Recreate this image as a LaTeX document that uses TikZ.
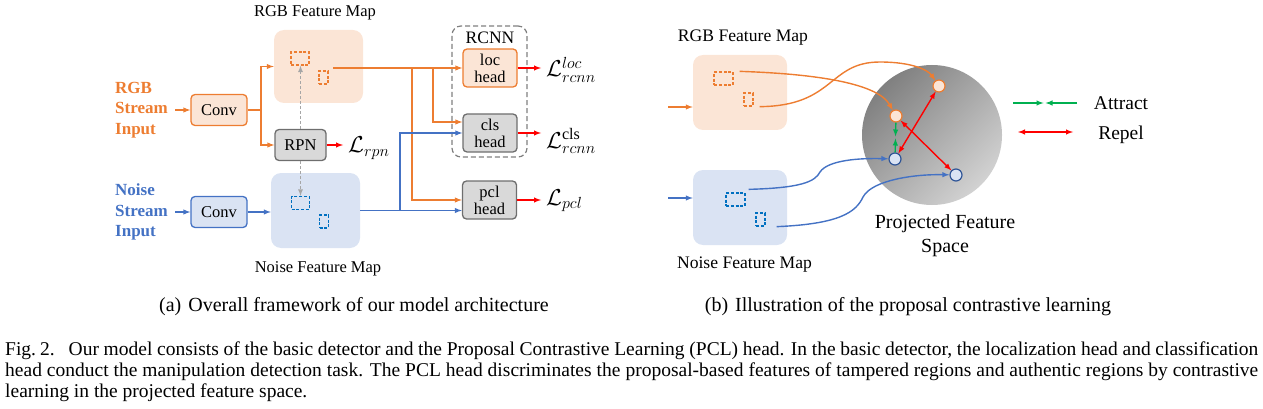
\RequirePackage{fix-cm}
\documentclass[tikz,border=0pt]{standalone}
\usepackage{amsmath}
\usepackage{fontspec}
\setmainfont{Liberation Serif}
\usepackage{xcolor}
\usetikzlibrary{shapes.geometric, arrows}
\usetikzlibrary{positioning, calc}

\definecolor{rgbline}{HTML}{ED7D31}
\definecolor{rgbfill}{HTML}{FBE5D6}
\definecolor{noiseline}{HTML}{4472C4}
\definecolor{noisefill}{HTML}{DAE3F3}
\definecolor{noisedash}{HTML}{0070C0}
\definecolor{noisedot}{HTML}{2F5597}
\definecolor{headfill}{HTML}{D9D9D9}
\definecolor{headline}{HTML}{6E6E6E}
\definecolor{roigray}{HTML}{A6A6A6}
\definecolor{rcnngray}{HTML}{7F7F7F}
\definecolor{lossred}{HTML}{FF0000}
\definecolor{pullgreen}{HTML}{00B050}
\definecolor{sphdark}{HTML}{808080}
\definecolor{sphlight}{HTML}{D2D2D2}

\begin{document}
\begin{tikzpicture}[
        x=1pt, y=-1pt,
        >=latex,
        txt/.style={font=\fontsize{16.5}{20}\selectfont, inner sep=0pt, align=center},
        losstxt/.style={anchor=base west, inner sep=5pt, font=\fontsize{23}{25}\selectfont},
        captxt/.style={anchor=base west, inner sep=0pt, font=\fontsize{19.5}{21}\selectfont},
        mapbox/.style={rectangle, rounded corners=10pt, minimum width=89pt, minimum height=73pt, inner sep=0pt},
        propbox/.style={rectangle, draw, line width=1.3pt, dash pattern=on 3pt off 1.8pt, inner sep=0pt, minimum width=18pt, minimum height=13pt},
        propthin/.style={propbox, minimum width=9pt},
        convbox/.style={rectangle, rounded corners=4pt, line width=1.3pt, minimum width=56pt, minimum height=31pt, inner sep=0pt, font=\fontsize{16.5}{20}\selectfont},
        headbox/.style={rectangle, rounded corners=4pt, line width=1.3pt, minimum width=54pt, minimum height=38pt, inner sep=0pt, align=center, font=\fontsize{16.5}{17}\selectfont},
        grayhead/.style={headbox, draw=headline, fill=headfill},
        rgbflow/.style={draw=rgbline, line width=1.4pt},
        noiseflow/.style={draw=noiseline, line width=1.4pt},
        lossflow/.style={->, draw=lossred, line width=1.4pt},
        roiflow/.style={->, draw=roigray, line width=1.2pt, dash pattern=on 3pt off 2pt},
        featdot/.style={circle, line width=1.2pt, minimum size=12pt, inner sep=0pt},
        pull/.style={->, draw=pullgreen, line width=1.4pt},
        push/.style={<->, draw=lossred, line width=1.4pt}
    ]
        \useasboundingbox (0,0) rectangle (1263,409);

        % (a) Feature maps
        \node (rgbmapA) [mapbox, fill=rgbfill] at (318.5,66.5) {};
        \node (rgbtitleA) [txt] at (315,13) {RGB Feature Map};
        \node (rgbbigA) [propbox, draw=rgbline] at (300,58.5) {};
        \node (rgbthinA) [propthin, draw=rgbline] at (323.5,77.5) {};
        \node (noisemapA) [mapbox, fill=noisefill, minimum height=75pt] at (315.5,210.5) {};
        \node (noisebigA) [propbox, draw=noisedash] at (300.5,203) {};
        \node (noisethinA) [propthin, draw=noisedash] at (324,221.5) {};
        \node (noisetitleA) [txt] at (318,269) {Noise Feature Map};

        % (a) Stream inputs and backbone
        \node (rgbinput) [txt, align=left, anchor=west, text=rgbline, font=\fontsize{17}{20.5}\selectfont\bfseries] at (115,110) {RGB\\Stream\\Input};
        \node (noiseinput) [txt, align=left, anchor=west, text=noiseline, font=\fontsize{17}{20.5}\selectfont\bfseries] at (115,212) {Noise\\Stream\\Input};
        \coordinate (rgbsrc) at (175,110);
        \coordinate (noisesrc) at (175,212);
        \node (rgbconv) [convbox, draw=rgbline, fill=rgbfill] at (219,110) {Conv};
        \node (noiseconv) [convbox, draw=noiseline, fill=noisefill] at (219,212) {Conv};
        \coordinate (rgbsplit) at (261,110);
        \node (rpn) [convbox, draw=headline, fill=headfill, minimum width=51pt] at (300.5,145) {RPN};
        \node (lossrpn) [losstxt] at (343,153) {$\mathcal{L}_{rpn}$};

        % (a) Heads
        \node (rcnn) [rectangle, draw=rcnngray, line width=1.2pt, dash pattern=on 5pt off 3pt, rounded corners=9pt, minimum width=75pt, minimum height=131pt] at (489.5,91.5) {};
        \node (rcnntxt) [txt, font=\fontsize{17.5}{20}\selectfont] at (490,38) {RCNN};
        \node (loc) [headbox, draw=rgbline, fill=rgbfill] at (490,68) {loc\\head};
        \node (cls) [grayhead] at (490,133) {cls\\head};
        \node (pcl) [grayhead] at (489.5,200) {pcl\\head};
        \node (lossloc) [losstxt] at (541,77) {$\mathcal{L}^{loc}_{rcnn}$};
        \node (losscls) [losstxt] at (541,148) {$\mathcal{L}^{\text{cls}}_{rcnn}$};
        \node (losspcl) [losstxt] at (541,205) {$\mathcal{L}_{pcl}$};
        \coordinate (rgbout) at (333,68);
        \coordinate (tappcl) at (412,68);
        \coordinate (tapcls) at (433,68);
        \coordinate (noisejoin) at (400,210.5);

        % (a) Connect RGB stream
        \draw [rgbflow, ->] (rgbsrc) -- (rgbconv);
        \draw [rgbflow] (rgbconv.east) -- (rgbsplit);
        \draw [rgbflow, ->] (rgbsplit) |- (rgbmapA.west);
        \draw [rgbflow, ->] (rgbsplit) |- (rpn.west);
        \draw [rgbflow, ->] (rgbout) -- (loc.west);
        \draw [rgbflow, ->] (tapcls) |- ($(cls.west)+(0,-11)$);
        \draw [rgbflow, ->] (tappcl) |- (pcl.west);

        % (a) Connect noise stream
        \draw [noiseflow, ->] (noisesrc) -- (noiseconv);
        \draw [noiseflow, ->] (noiseconv) -- (noiseconv -| noisemapA.west);
        \draw [noiseflow, ->] (noisemapA.east) -- (noisemapA.east -| pcl.west);
        \draw [noiseflow, ->] (noisejoin) |- (cls.west);

        % (a) Proposals and losses
        \draw [roiflow] (rpn.north) -- (rpn.north |- rgbbigA.south);
        \draw [roiflow] (rpn.south) -- (rpn.south |- noisebigA.north);
        \draw [lossflow] (rpn.east) -- (rpn.east -| lossrpn.west);
        \draw [lossflow] (loc.east) -- (loc.east -| lossloc.west);
        \draw [lossflow] (cls.east) -- (cls.east -| losscls.west);
        \draw [lossflow] (pcl.east) -- (pcl.east -| losspcl.west);

        % (b) Feature maps
        \node (rgbmapB) [mapbox, fill=rgbfill, minimum width=94pt, minimum height=75pt] at (740,92.5) {};
        \node (rgbtitleB) [txt, font=\fontsize{17.6}{20}\selectfont] at (743,38) {RGB Feature Map};
        \node (rgbbigB) [propbox, draw=rgbline, minimum width=19pt] at (723.5,78.5) {};
        \node (rgbthinB) [propthin, draw=rgbline] at (748.5,99.5) {};
        \node (noisemapB) [mapbox, fill=noisefill, minimum width=94pt, minimum height=75pt] at (740,207.5) {};
        \node (noisetitleB) [txt, font=\fontsize{17.6}{20}\selectfont] at (744.5,265) {Noise Feature Map};
        \node (noisebigB) [propbox, draw=noisedash, minimum width=19pt] at (735.5,199.5) {};
        \node (noisethinB) [propthin, draw=noisedash] at (760.5,219.5) {};
        \coordinate (rgbsrcB) at (668,107);
        \coordinate (noisesrcB) at (668,198);
        \draw [rgbflow, ->] (rgbsrcB) -- (rgbsrcB -| rgbmapB.west);
        \draw [noiseflow, ->] (noisesrcB) -- (noisesrcB -| noisemapB.west);

        % (b) Projected feature space
        \node (space) [circle, minimum size=140pt, inner sep=0pt, top color=sphdark, bottom color=sphlight, shading angle=45] at (932,135) {};
        \node (spacetxt) [txt, font=\fontsize{20}{24}\selectfont] at (945,236) {Projected Feature\\Space};
        \node (tamperA) [featdot, draw=rgbline, fill=rgbfill] at (939,86) {};
        \node (tamperB) [featdot, draw=rgbline, fill=rgbfill] at (896,116) {};
        \node (authA) [featdot, draw=noisedot, fill=noisefill] at (895,159) {};
        \node (authB) [featdot, draw=noisedot, fill=noisefill] at (956,175) {};

        % (b) Project proposals
        \draw [rgbflow, ->] ([xshift=6pt]rgbbigB.north east) .. controls (820,74) and (878,84) .. (tamperB);
        \draw [rgbflow, ->] ([xshift=6pt]rgbthinB.south east) .. controls (835,106) and (828,62) .. (880,62) .. controls (912,62) and (928,70) .. (tamperA);
        \draw [noiseflow, ->] ([xshift=3pt,yshift=3pt]noisebigB.north east) .. controls (800,188) and (815,182) .. (820,172) .. controls (828,160) and (860,158) .. (authA);
        \draw [noiseflow, ->] ([xshift=11pt]noisethinB.south east) .. controls (840,224) and (856,212) .. (863,197) .. controls (872,180) and (915,174) .. (authB);

        % (b) Attract and repel
        \coordinate (pullmid) at ($(tamperB)!0.5!(authA)$);
        \draw [pull] (tamperB) -- ([yshift=1pt]pullmid);
        \draw [pull] (authA) -- ([yshift=-1pt]pullmid);
        \draw [push] (tamperA) -- (authA);
        \draw [push] (tamperB) -- (authB);

        % (b) Legend
        \node (attract) [txt, font=\fontsize{19.5}{22}\selectfont] at (1121,103) {Attract};
        \node (repel) [txt, font=\fontsize{19.5}{22}\selectfont] at (1121,135) {Repel};
        \coordinate (pullL) at (1013,103);
        \coordinate (pullR) at (1077,103);
        \coordinate (pullC) at (1044.5,103);
        \coordinate (pushL) at (1018,132);
        \coordinate (pushR) at (1073,132);
        \draw [pull] (pullL) -- ([xshift=-1pt]pullC);
        \draw [pull] (pullR) -- ([xshift=1pt]pullC);
        \draw [push] (pushL) -- (pushR);

        % Captions
        \node (capA) [txt, font=\fontsize{20}{24}\selectfont] at (354,307) {(a)\hspace{7pt}Overall framework of our model architecture};
        \node (capB) [txt, font=\fontsize{20}{24}\selectfont] at (908,307) {(b)\hspace{7pt}Illustration of the proposal contrastive learning};
        \node (figcapA) [captxt] at (5,355) {\makebox[1253pt][s]{\mbox{Fig.\kern4pt2.}\hspace{14pt}Our model consists of the basic detector and the Proposal Contrastive Learning (PCL) head. In the basic detector, the localization head and classification}};
        \node (figcapB) [captxt] at (5,376) {\makebox[1253pt][s]{head conduct the manipulation detection task. The PCL head discriminates the proposal-based features of tampered regions and authentic regions by contrastive}};
        \node (figcapC) [captxt] at (5,397) {learning in the projected feature space.};
\end{tikzpicture}
\end{document}
